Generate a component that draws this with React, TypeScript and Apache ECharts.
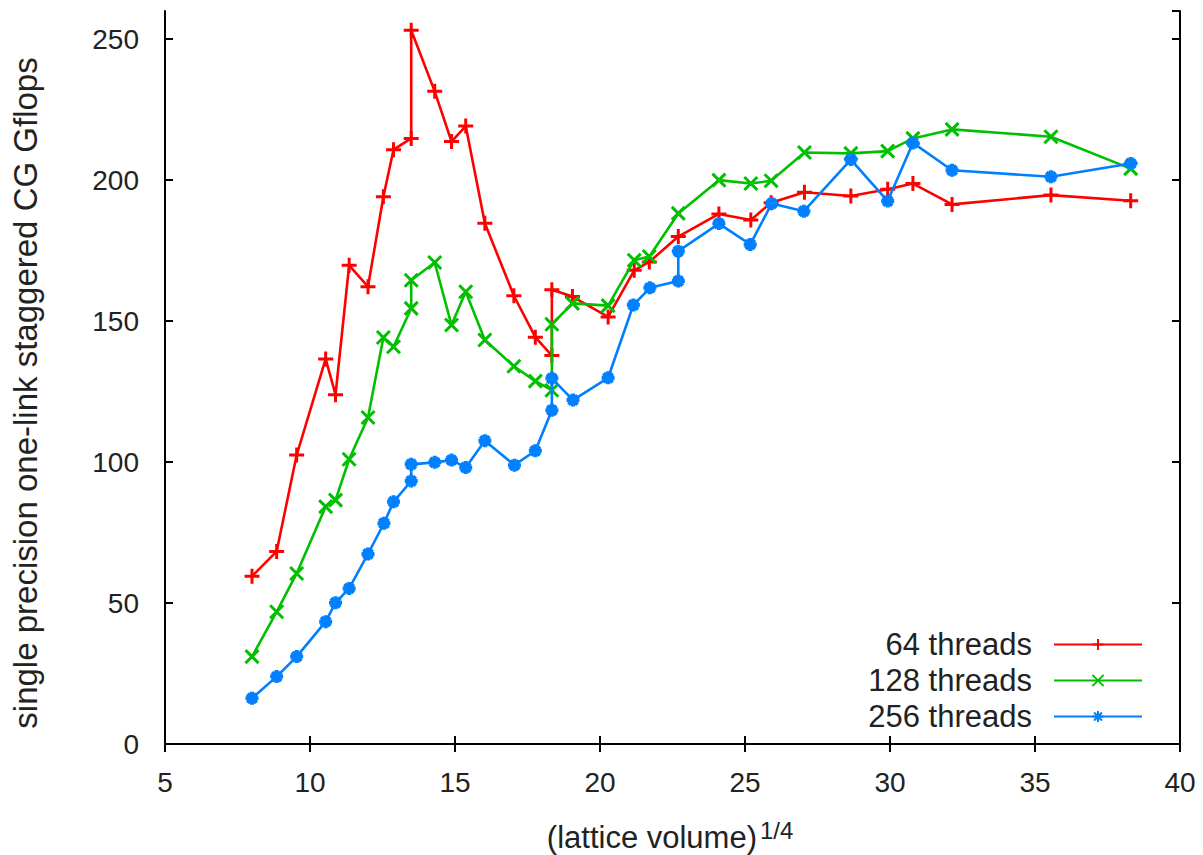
import React, { useEffect, useRef } from "react";
import * as echarts from "echarts";

// x = (lattice volume)^(1/4)
const latticeX = [8.0, 8.85, 9.54, 10.54, 10.88, 11.35, 12.0, 12.53, 12.88, 13.49, 13.49, 14.3, 14.88, 15.37, 16.03, 17.03, 17.77, 18.34, 18.34, 19.05, 20.28, 21.18, 21.7, 22.7, 24.1, 25.2, 25.9, 27.05, 28.65, 29.92, 30.79, 32.14, 35.55, 38.3];
const latticeX256 = [8.0, 8.85, 9.54, 10.54, 10.88, 11.35, 12.0, 12.55, 12.88, 13.49, 13.49, 14.3, 14.88, 15.37, 16.03, 17.05, 17.77, 18.34, 18.34, 19.07, 20.28, 21.15, 21.72, 22.7, 22.7, 24.1, 25.18, 25.92, 27.03, 28.65, 29.92, 30.79, 32.14, 35.55, 38.3];

const gflops64 = [59.5, 68.3, 102.5, 136.6, 123.9, 169.8, 162.2, 194.1, 210.8, 214.8, 253.2, 231.5, 213.7, 219.2, 184.7, 159.0, 144.3, 137.8, 161.1, 158.7, 151.5, 168.0, 171.0, 180.0, 188.0, 185.9, 192.0, 195.7, 194.4, 196.8, 198.8, 191.4, 194.7, 192.7];
const gflops128 = [31.0, 46.9, 60.5, 84.2, 86.5, 101.0, 115.8, 144.2, 140.9, 154.5, 164.5, 170.8, 148.6, 160.4, 143.3, 134.0, 128.7, 125.5, 148.9, 156.3, 155.5, 171.6, 172.9, 188.2, 200.0, 198.8, 199.8, 209.8, 209.5, 210.3, 214.8, 218.0, 215.4, 204.1];
const gflops256 = [16.2, 23.9, 31.0, 43.4, 50.1, 55.2, 67.4, 78.3, 85.9, 93.3, 99.2, 99.9, 100.7, 98.1, 107.6, 98.9, 104.0, 118.4, 129.7, 122.0, 129.9, 155.7, 161.8, 164.2, 174.8, 184.6, 177.2, 191.7, 189.0, 207.3, 192.6, 213.2, 203.5, 201.2, 205.9];

const seriesNames = ["64 threads", "128 threads", "256 threads"];
const xTicks = { min: 5, max: 40, interval: 5 };
const yTicks = { min: 0, max: 260, interval: 50 };

const FONT = "Liberation Sans";
const TEXT_COLOR = "#222";
const COLORS = ["#ff0000", "#00c000", "#0080ff"];

const SYM_PLUS = "path://M0,5L10,5M5,0L5,10";
const SYM_CROSS = "path://M0,0L10,10M10,0L0,10";
const SYM_STAR = "path://M0,5L10,5M5,0L5,10M1.5,1.5L8.5,8.5M8.5,1.5L1.5,8.5";

function zip(xs: number[], ys: number[]) {
  return xs.map((x, i) => [x, ys[i]]);
}

export default function App() {
  const ref = useRef<HTMLDivElement>(null);
  useEffect(() => {
    document.body.style.margin = "0";
    const chart = echarts.init(ref.current!, null, { renderer: "svg" });
    const axisCommon = {
      axisLine: { show: true, lineStyle: { color: "#000", width: 2 } },
      axisTick: { show: true, inside: true, length: 8, lineStyle: { color: "#000", width: 2 } },
      splitLine: { show: false },
    };
    const mk = (i: number, data: number[][], symbol: string, size: number, bw: number) => ({
      name: seriesNames[i],
      type: "line",
      data,
      symbol,
      symbolSize: size,
      showSymbol: true,
      lineStyle: { color: COLORS[i], width: 2.6 },
      itemStyle: { color: COLORS[i], borderColor: COLORS[i], borderWidth: bw },
      z: 2 + i,
    });
    chart.setOption({
      animation: false,
      grid: { left: 165, right: 23, top: 11, bottom: 111, containLabel: false },
      xAxis: [
        {
          type: "value",
          ...xTicks,
          position: "bottom",
          ...axisCommon,
          axisLabel: { fontFamily: FONT, fontSize: 28, color: TEXT_COLOR, margin: 24 },
        },
        {
          type: "value",
          ...xTicks,
          position: "top",
          ...axisCommon,
          axisLabel: { show: false },
        },
      ],
      yAxis: [
        {
          type: "value",
          ...yTicks,
          position: "left",
          ...axisCommon,
          axisLabel: {
            fontFamily: FONT,
            fontSize: 28,
            color: TEXT_COLOR,
            margin: 26,
            showMaxLabel: false,
          },
        },
        {
          type: "value",
          ...yTicks,
          position: "right",
          ...axisCommon,
          axisLabel: { show: false },
        },
      ],
      legend: {
        data: seriesNames,
        orient: "vertical",
        align: "right",
        right: 55,
        top: 624,
        itemWidth: 88,
        itemHeight: 14,
        itemGap: 5,
        textStyle: { fontFamily: FONT, fontSize: 31, color: TEXT_COLOR, padding: [0, 17, 0, 0] },
      },
      graphic: [
        {
          type: "text",
          x: 25,
          y: 393,
          rotation: Math.PI / 2,
          style: {
            text: "single precision one-link staggered CG Gflops",
            font: `33px '${FONT}'`,
            fill: TEXT_COLOR,
            align: "center",
            verticalAlign: "middle",
          },
        },
        {
          type: "text",
          x: 757,
          y: 837,
          style: {
            text: "(lattice volume)",
            font: `31px '${FONT}'`,
            fill: TEXT_COLOR,
            align: "right",
            verticalAlign: "middle",
          },
        },
        {
          type: "text",
          x: 760,
          y: 830,
          style: {
            text: "1/4",
            font: `24px '${FONT}'`,
            fill: TEXT_COLOR,
            align: "left",
            verticalAlign: "middle",
          },
        },
      ],
      series: [
        mk(0, zip(latticeX, gflops64), SYM_PLUS, 15, 3),
        mk(1, zip(latticeX, gflops128), SYM_CROSS, 13, 3),
        mk(2, zip(latticeX256, gflops256), SYM_STAR, 13, 4),
      ],
    });
    return () => chart.dispose();
  }, []);
  return <div ref={ref} style={{ width: 1203, height: 855 }} />;
}
